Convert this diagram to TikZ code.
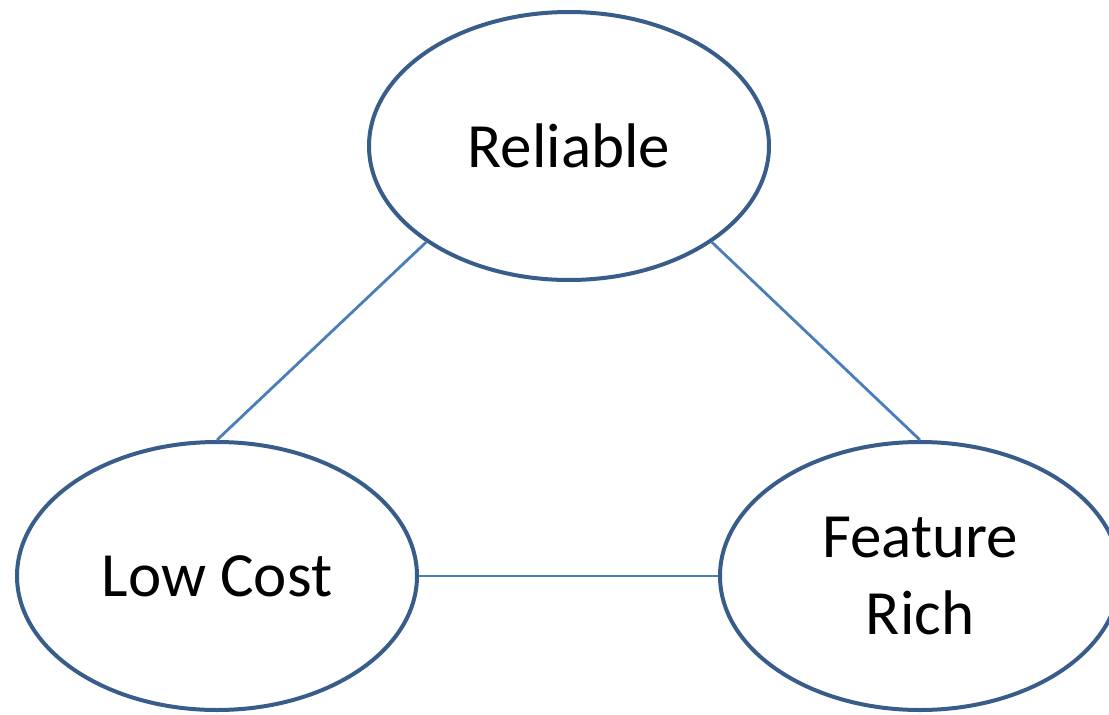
\documentclass[tikz,border=0pt]{standalone}
\usepackage{fontspec}
\setmainfont{Carlito}
\usetikzlibrary{shapes.geometric}
\definecolor{ellline}{HTML}{385D8A}
\definecolor{conline}{HTML}{4A7EBB}
\begin{document}
\begin{tikzpicture}[x=1pt,y=-1pt,
  oval/.style={ellipse, draw=ellline, line width=4pt, fill=white, inner sep=0pt,
    minimum width=400pt, minimum height=268pt, align=center,
    font=\fontsize{63}{77}\selectfont},
  conn/.style={draw=conline, line width=2.8pt}]
\useasboundingbox (0,0) rectangle (1109,715);
\begin{scope}
\clip (0,0) rectangle (1109,715);
\node[oval] (rel) at (569,146) {Reliable};
\node[oval] (low) at (217,576) {Low Cost};
\node[oval] (feat) at (920,576) {Feature\\Rich};
\draw[conn] (rel.south west) -- (low.north);
\draw[conn] (rel.south east) -- (feat.north);
\draw[conn] (low.east) -- (feat.west);
\end{scope}
\end{tikzpicture}
\end{document}
